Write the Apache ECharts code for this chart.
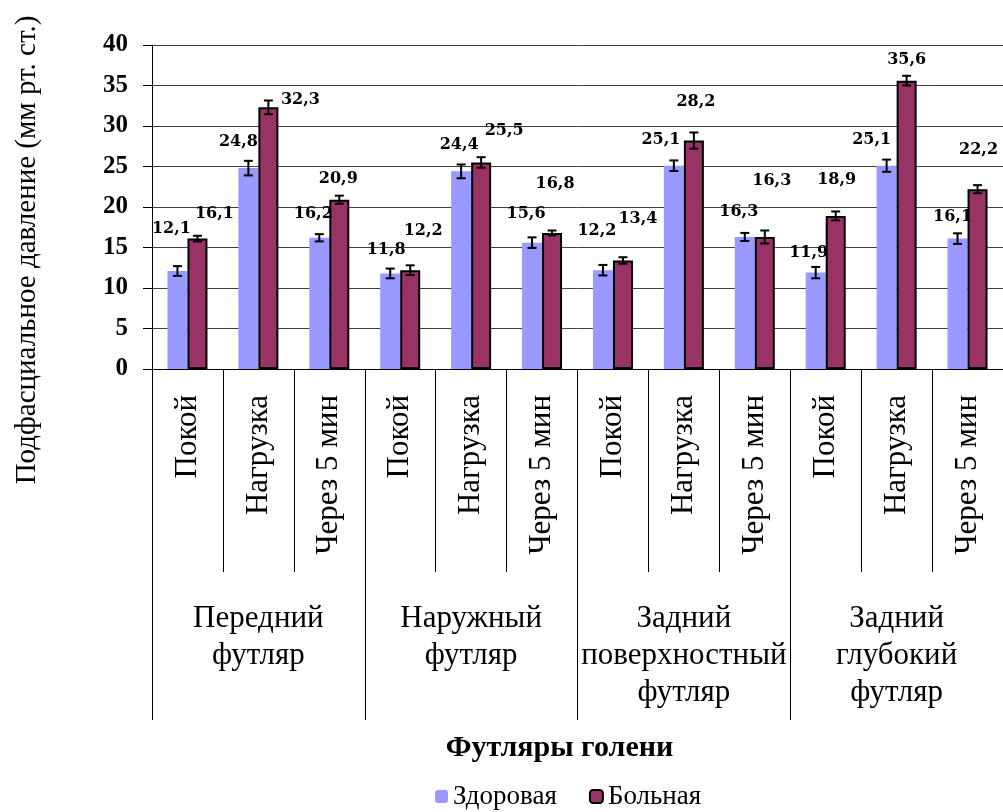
<!DOCTYPE html>
<html>
<head>
<meta charset="utf-8">
<script src="https://cdn.jsdelivr.net/npm/echarts@6/dist/echarts.min.js"></script>
<style>
    html, body { margin: 0; padding: 0; background: #fff; }
    #chart { width: 1003px; height: 812px; }
</style>
</head>
<body>
<div id="chart"></div>
<script>
// categories
var stages = ['Покой', 'Нагрузка', 'Через 5 мин', 'Покой', 'Нагрузка', 'Через 5 мин',
    'Покой', 'Нагрузка', 'Через 5 мин', 'Покой', 'Нагрузка', 'Через 5 мин'];
var groups = ['Передний\nфутляр', 'Наружный\nфутляр', 'Задний\nповерхностный\nфутляр', 'Задний\nглубокий\nфутляр'];
var seriesNames = ['Здоровая', 'Больная'];

// values
var healthy = [12.1, 24.8, 16.2, 11.8, 24.4, 15.6, 12.2, 25.1, 16.3, 11.9, 25.1, 16.1];
var sick = [16.1, 32.3, 20.9, 12.2, 25.5, 16.8, 13.4, 28.2, 16.3, 18.9, 35.6, 22.2];
// error bar half-widths
var healthyErr = [0.6, 0.9, 0.45, 0.6, 0.85, 0.65, 0.65, 0.65, 0.5, 0.7, 0.75, 0.65];
var sickErr = [0.35, 0.85, 0.5, 0.6, 0.65, 0.3, 0.4, 1.0, 0.8, 0.55, 0.6, 0.5];

// label placement tweaks (px), like the hand-moved labels of the original
var healthyLabelShift = [[-6, -29], [-10, -13], [-6, -11], [-4, -11], [-2, -14], [-6, -16],
    [-6, -26], [-13, -13], [-6, -12], [-7, -7], [-15, -13], [-5, -9]];
var sickLabelShift = [[17, -12], [32, 5], [-1, -8], [13, -26], [23, -19], [3, -36],
    [15, -29], [2, -26], [7, -43], [1, -23], [0, -8], [1, -26]];

var BLUE = '#9999FF';
var RED = '#993366';
var BAR_W = 20;

function commaNum(v) {
    return String(v).replace('.', ',');
}

function barData(vals, shifts) {
    return vals.map(function(v, i) {
        return { value: v, label: { offset: shifts[i] } };
    });
}

function errData(vals, errs) {
    return vals.map(function(v, i) {
        return [i, v, errs[i]];
    });
}

function errRenderer(dx) {
    return function(params, api) {
        var c = api.coord([api.value(0), api.value(1)]);
        var hi = api.coord([api.value(0), api.value(1) + api.value(2)]);
        var lo = api.coord([api.value(0), api.value(1) - api.value(2)]);
        var x = c[0] + dx;
        var cap = 4.5;
        var st = { stroke: '#000', lineWidth: 2 };
        return {
            type: 'group',
            children: [
                { type: 'line', shape: { x1: x, y1: hi[1], x2: x, y2: lo[1] }, style: st },
                { type: 'line', shape: { x1: x - cap, y1: hi[1], x2: x + cap, y2: hi[1] }, style: st },
                { type: 'line', shape: { x1: x - cap, y1: lo[1], x2: x + cap, y2: lo[1] }, style: st }
            ]
        };
    };
}

function showChart() {
    var chart = echarts.init(document.getElementById('chart'));

    var labelStyle = {
        show: true,
        position: 'top',
        distance: 5,
        fontFamily: 'DejaVu Serif',
        fontWeight: 'bold',
        fontSize: 16,
        color: '#000',
        formatter: function(p) { return commaNum(p.value); }
    };

    var option = {
        backgroundColor: '#fff',
        animation: false,
        grid: { left: 152, top: 45, width: 852, height: 324 },
        legend: {
            data: seriesNames,
            left: 430,
            top: 778,
            itemWidth: 13,
            itemHeight: 13,
            itemGap: 32,
            textStyle: { fontFamily: 'Liberation Serif', fontSize: 27, color: '#000' }
        },
        xAxis: [{
            type: 'category',
            data: stages,
            position: 'bottom',
            axisLine: { lineStyle: { color: '#000', width: 1 } },
            axisTick: { show: true, interval: 0, length: 203, lineStyle: { color: '#000' } },
            axisLabel: {
                interval: 0,
                rotate: 90,
                margin: 26,
                fontFamily: 'Liberation Serif',
                fontSize: 31,
                color: '#000'
            }
        }, {
            type: 'category',
            data: groups,
            position: 'bottom',
            offset: 0,
            axisLine: { show: false },
            axisTick: { show: true, interval: 0, length: 351, lineStyle: { color: '#000' } },
            axisLabel: {
                interval: 0,
                margin: 231,
                fontFamily: 'Liberation Serif',
                fontSize: 31,
                lineHeight: 37,
                color: '#000'
            },
            name: 'Футляры голени',
            nameLocation: 'middle',
            nameGap: 364,
            nameTextStyle: {
                fontFamily: 'Liberation Serif',
                fontWeight: 'bold',
                fontSize: 30,
                color: '#000',
                padding: [0, 36, 0, 0]
            }
        }],
        yAxis: {
            type: 'value',
            min: 0,
            max: 40,
            interval: 5,
            axisLine: { show: true, lineStyle: { color: '#000' } },
            axisTick: { show: true, length: 9, lineStyle: { color: '#000' } },
            splitLine: { lineStyle: { color: '#404040', width: 1 } },
            axisLabel: {
                margin: 24,
                fontFamily: 'Liberation Serif',
                fontWeight: 'bold',
                fontSize: 25,
                color: '#000'
            },
            name: 'Подфасциальное давление (мм рт. ст.)',
            nameLocation: 'middle',
            nameGap: 110,
            nameTextStyle: {
                fontFamily: 'Liberation Serif',
                fontSize: 29,
                color: '#000',
                padding: [0, 86, 0, 0]
            }
        },
        series: [{
            name: seriesNames[0],
            type: 'bar',
            barWidth: BAR_W,
            barGap: '0%',
            itemStyle: { color: BLUE },
            label: labelStyle,
            data: barData(healthy, healthyLabelShift)
        }, {
            name: seriesNames[1],
            type: 'bar',
            barWidth: BAR_W,
            barGap: '0%',
            itemStyle: { color: RED, borderColor: '#000', borderWidth: 2 },
            label: labelStyle,
            data: barData(sick, sickLabelShift)
        }, {
            name: 'err-healthy',
            type: 'custom',
            z: 5,
            renderItem: errRenderer(-BAR_W / 2),
            data: errData(healthy, healthyErr)
        }, {
            name: 'err-sick',
            type: 'custom',
            z: 5,
            renderItem: errRenderer(BAR_W / 2),
            data: errData(sick, sickErr)
        }]
    };

    chart.setOption(option);
}

showChart();
</script>
</body>
</html>
